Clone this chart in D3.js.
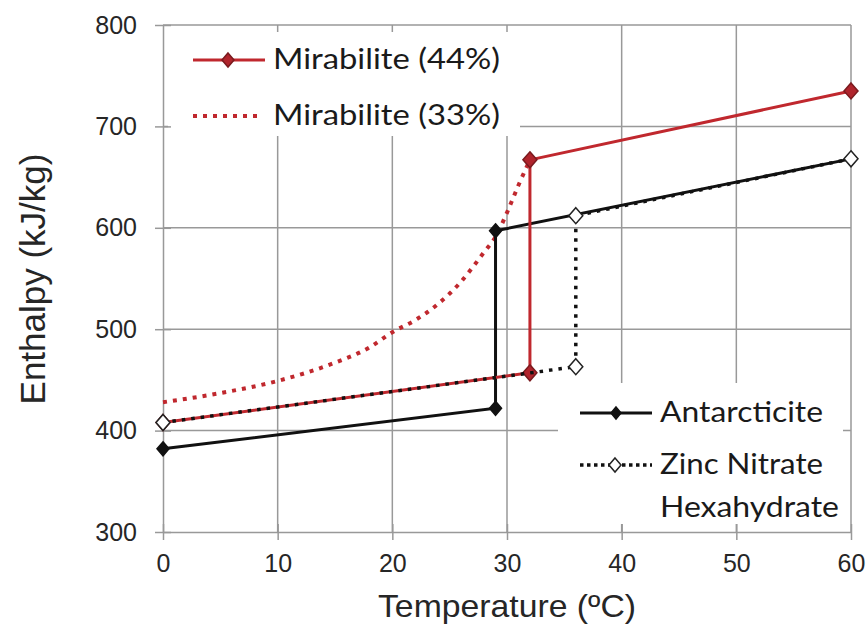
<!DOCTYPE html>
<html>
<head>
<meta charset="utf-8">
<script src="https://cdn.jsdelivr.net/npm/d3@7"></script>
<style>
  body { margin: 0; background: #fff; }
  svg { display: block; }
</style>
</head>
<body>
<div id="chart"></div>
<script>
// values
var xTicks = [0, 10, 20, 30, 40, 50, 60]
var yTicks = [300, 400, 500, 600, 700, 800]

var antTemp = [0, 29, 29, 60]
var antEnth = [382, 422, 597, 668]

var zincTemp = [0, 36, 36, 60]
var zincEnth = [408, 463, 612, 668]

var mir44Temp = [0, 32, 32, 60]
var mir44Enth = [408, 457, 667, 735]

var mir33Temp = [0, 5, 10, 15, 18, 20, 22, 24, 26, 27, 28, 29, 30, 31, 32]
var mir33Enth = [428, 437, 449, 467, 482, 497, 509, 525, 547, 561, 576, 591, 615, 642, 667]

var width = 867, height = 631
var red = "#c0282e"

var svg = d3.select("#chart").append("svg")
    .attr("width", width)
    .attr("height", height)

var x = d3.scaleLinear().domain([0, 60]).range([163, 851])
var y = d3.scaleLinear().domain([300, 800]).range([532, 25])

function pts(t, v) { return t.map(function(d, i) { return [d, v[i]] }) }

// grid
svg.append("g").selectAll("line").data(xTicks.slice(1)).enter().append("line")
    .attr("x1", function(d) { return x(d) }).attr("x2", function(d) { return x(d) })
    .attr("y1", y(800)).attr("y2", y(300))
    .attr("stroke", "#999").attr("stroke-width", 1.5)
svg.append("g").selectAll("line").data(yTicks.slice(1)).enter().append("line")
    .attr("x1", x(0)).attr("x2", x(60))
    .attr("y1", function(d) { return y(d) }).attr("y2", function(d) { return y(d) })
    .attr("stroke", "#999").attr("stroke-width", 1.5)

// legend boxes hide the grid behind them
svg.append("rect").attr("x", 168).attr("y", 32).attr("width", 352).attr("height", 104).attr("fill", "#fff")
svg.append("rect").attr("x", 558).attr("y", 383).attr("width", 285).attr("height", 141).attr("fill", "#fff")

// axes with cross ticks
var yAxis = svg.append("g").attr("transform", "translate(" + x(0) + ",0)")
    .call(d3.axisLeft(y).tickValues(yTicks).tickSizeInner(8).tickSizeOuter(0).tickPadding(18))
var xAxis = svg.append("g").attr("transform", "translate(0," + y(300) + ")")
    .call(d3.axisBottom(x).tickValues(xTicks).tickSizeInner(8).tickSizeOuter(0).tickPadding(14))
yAxis.selectAll(".tick line").attr("x1", 8)
xAxis.selectAll(".tick line").attr("y1", -8)
svg.selectAll(".domain, .tick line").attr("stroke", "#999").attr("stroke-width", 1.5)
svg.selectAll(".tick text")
    .attr("font-family", "Liberation Sans, Arial, sans-serif")
    .attr("font-size", 25).attr("fill", "#262626")

// axis titles
svg.append("text")
    .attr("x", 507).attr("y", 617).attr("text-anchor", "middle")
    .attr("font-family", "Liberation Sans, Arial, sans-serif").attr("font-size", 32)
    .attr("fill", "#262626").attr("textLength", 258).attr("lengthAdjust", "spacingAndGlyphs")
    .text("Temperature (ºC)")
svg.append("text")
    .attr("transform", "translate(45,279) rotate(-90)").attr("text-anchor", "middle")
    .attr("font-family", "Liberation Sans, Arial, sans-serif").attr("font-size", 35)
    .attr("fill", "#262626")
    .text("Enthalpy (kJ/kg)")

var line = d3.line().x(function(d) { return x(d[0]) }).y(function(d) { return y(d[1]) })

function diamond(g, data, r, fill, stroke) {
    g.selectAll(null).data(data).enter().append("path")
        .attr("d", "M0," + (-r - 1) + "L" + r + ",0L0," + (r + 1) + "L" + (-r) + ",0Z")
        .attr("transform", function(d) { return "translate(" + x(d[0]) + "," + y(d[1]) + ")" })
        .attr("fill", fill).attr("stroke", stroke).attr("stroke-width", 1.5)
}

var plot = svg.append("g")

// Mirabilite (33%)
plot.append("path").datum(pts(mir33Temp, mir33Enth))
    .attr("d", line.curve(d3.curveMonotoneX)).attr("fill", "none")
    .attr("stroke", red).attr("stroke-width", 4).attr("stroke-dasharray", "4 6")
line.curve(d3.curveLinear)

// Antarcticite
plot.append("path").datum(pts(antTemp, antEnth))
    .attr("d", line).attr("fill", "none").attr("stroke", "#111").attr("stroke-width", 3)
diamond(plot, pts(antTemp, antEnth), 6, "#111", "#111")

// Mirabilite (44%)
plot.append("path").datum(pts(mir44Temp, mir44Enth))
    .attr("d", line).attr("fill", "none").attr("stroke", red).attr("stroke-width", 3)
diamond(plot, pts(mir44Temp, mir44Enth), 7, "#b0242c", "#7a1a1e")

// Zinc Nitrate Hexahydrate
plot.append("path").datum(pts(zincTemp, zincEnth))
    .attr("d", line).attr("fill", "none").attr("stroke", "#111").attr("stroke-width", 3.5)
    .attr("stroke-dasharray", "3.5 6")
diamond(plot, pts(zincTemp, zincEnth), 7, "#fff", "#222")

// legends
var legFont = "Lato, Open Sans, sans-serif"
function legText(tx, ty, len, label) {
    svg.append("text").attr("x", tx).attr("y", ty)
        .attr("font-family", legFont).attr("font-size", 28).attr("fill", "#1a1a1a")
        .attr("textLength", len).attr("lengthAdjust", "spacingAndGlyphs")
        .text(label)
}
function legLine(x1, x2, ly, color, w, dash) {
    var l = svg.append("line").attr("x1", x1).attr("x2", x2).attr("y1", ly).attr("y2", ly)
        .attr("stroke", color).attr("stroke-width", w)
    if (dash) l.attr("stroke-dasharray", dash)
}
function legMarker(cx, cy, r, fill, stroke) {
    svg.append("path")
        .attr("d", "M0," + (-r - 1) + "L" + r + ",0L0," + (r + 1) + "L" + (-r) + ",0Z")
        .attr("transform", "translate(" + cx + "," + cy + ")")
        .attr("fill", fill).attr("stroke", stroke).attr("stroke-width", 1.5)
}

legLine(193, 265, 60, red, 3)
legMarker(228, 60, 6, "#b0242c", "#7a1a1e")
legText(273, 69, 227, "Mirabilite (44%)")

legLine(193, 263, 116, red, 4, "4 6")
legText(273, 125, 227, "Mirabilite (33%)")

legLine(580, 652, 413, "#111", 3)
legMarker(616, 413, 5, "#111", "#111")
legText(660, 422, 163, "Antarcticite")

legLine(580, 652, 465, "#111", 3.5, "3.5 3.5")
legMarker(615, 465, 6, "#fff", "#222")
legText(660, 474, 163, "Zinc Nitrate")
legText(660, 517, 179, "Hexahydrate")
</script>
</body>
</html>
